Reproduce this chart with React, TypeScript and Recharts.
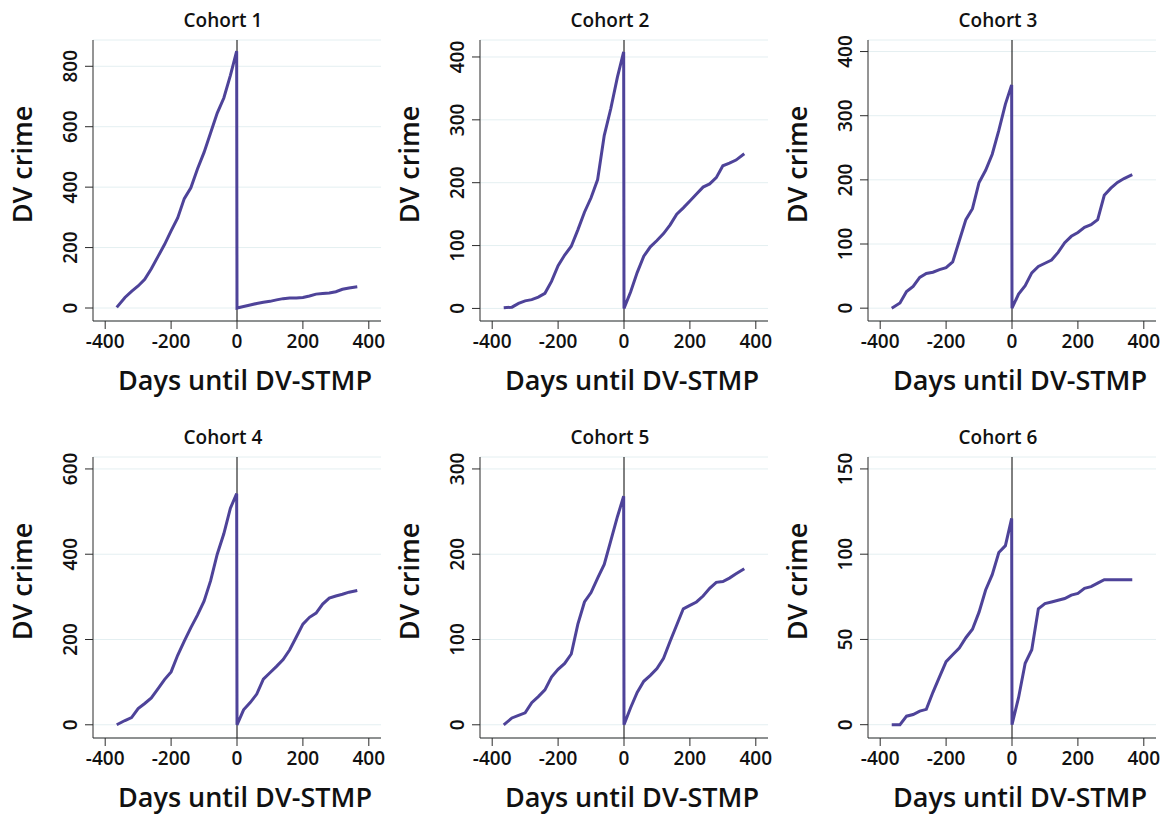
import { LineChart, Line, XAxis, YAxis, CartesianGrid, ReferenceLine } from 'recharts';

// days relative to the DV-STMP start (before / after)
const preDays = [-365, -340, -320, -300, -280, -260, -240, -220, -200, -180, -160, -140, -120, -100, -80, -60, -40, -20, -1];
const postDays = [0, 20, 40, 60, 80, 100, 120, 140, 160, 180, 200, 220, 240, 260, 280, 300, 320, 340, 365];

// cumulative DV crime counts, pre values then post values
const cohort1 = [
  2, 35, 55, 73, 95, 130, 170, 210, 255, 298, 362, 398, 460, 515, 580, 645, 695, 770, 850,
  0, 5, 10, 15, 19, 22, 27, 31, 33, 33, 35, 40, 46, 48, 50, 54, 62, 66, 70,
];
const cohort2 = [
  1, 2, 8, 12, 14, 18, 24, 43, 68, 85, 99, 125, 153, 176, 205, 275, 318, 368, 408,
  0, 26, 57, 83, 98, 108, 119, 133, 150, 160, 171, 182, 193, 198, 208, 227, 231, 236, 246,
];
const cohort3 = [
  0, 8, 26, 34, 48, 54, 56, 60, 63, 72, 105, 138, 155, 196, 215, 240, 277, 318, 348,
  0, 22, 35, 55, 65, 70, 75, 87, 102, 112, 118, 126, 130, 138, 176, 187, 196, 202, 208,
];
const cohort4 = [
  0, 10, 17, 38, 50, 63, 84, 106, 124, 163, 196, 228, 257, 290, 338, 400, 448, 508, 542,
  0, 35, 52, 72, 107, 122, 137, 153, 176, 206, 236, 252, 262, 283, 297, 302, 306, 311, 315,
];
const cohort5 = [
  0, 8, 11, 14, 26, 33, 41, 56, 65, 72, 83, 118, 144, 155, 172, 188, 216, 244, 268,
  0, 20, 38, 51, 58, 66, 78, 98, 117, 136, 140, 144, 151, 160, 167, 168, 172, 177, 183,
];
const cohort6 = [
  0, 0, 5, 6, 8, 9, 19, 28, 37, 41, 45, 51, 56, 66, 79, 88, 101, 105, 121,
  0, 16, 36, 44, 68, 71, 72, 73, 74, 76, 77, 80, 81, 83, 85, 85, 85, 85, 85,
];

const xTicks = [-400, -200, 0, 200, 400];
const yTicks1 = [0, 200, 400, 600, 800];
const yTicks2 = [0, 100, 200, 300, 400];
const yTicks3 = [0, 100, 200, 300, 400];
const yTicks4 = [0, 200, 400, 600];
const yTicks5 = [0, 100, 200, 300];
const yTicks6 = [0, 50, 100, 150];

const days = [...preDays, ...postDays];
const data = days.map((day, i) => ({
  day,
  c1: cohort1[i],
  c2: cohort2[i],
  c3: cohort3[i],
  c4: cohort4[i],
  c5: cohort5[i],
  c6: cohort6[i],
}));

const panels = [
  { key: 'c1', title: 'Cohort 1', ticks: yTicks1, domain: [-43, 887], left: 0, top: 0 },
  { key: 'c2', title: 'Cohort 2', ticks: yTicks2, domain: [-20, 427], left: 387, top: 0 },
  { key: 'c3', title: 'Cohort 3', ticks: yTicks3, domain: [-20, 418], left: 775, top: 0 },
  { key: 'c4', title: 'Cohort 4', ticks: yTicks4, domain: [-31, 628], left: 0, top: 417 },
  { key: 'c5', title: 'Cohort 5', ticks: yTicks5, domain: [-15.5, 314], left: 387, top: 417 },
  { key: 'c6', title: 'Cohort 6', ticks: yTicks6, domain: [-7.8, 157], left: 775, top: 417 },
];

const FONT = '"Open Sans", "Noto Sans", sans-serif';
const LINE = '#4e4399';
const AXIS = '#2b2b2b';
const GRID = '#e4eff1';

const CHART_W = 390;
const CHART_H = 399;
const Y_W = 93;
const X_H = 78;
const M_TOP = 40;
const M_RIGHT = 9;

function XTick({ x, y, payload }: any) {
  return (
    <text x={x} y={y} dy="0.71em" textAnchor="middle" fontFamily={FONT} fontWeight={600} fontSize={19} fill="#111">
      {payload.value}
    </text>
  );
}

function YTick({ x, y, payload }: any) {
  return (
    <g transform={`translate(${x},${y}) rotate(-90)`}>
      <text x={0} y={0} textAnchor="middle" fontFamily={FONT} fontWeight={600} fontSize={19} fill="#111">
        {payload.value}
      </text>
    </g>
  );
}

function Panel({ p }: { p: (typeof panels)[number] }) {
  return (
    <div style={{ position: 'absolute', left: p.left, top: p.top }}>
      <LineChart width={CHART_W} height={CHART_H} data={data} margin={{ top: M_TOP, right: M_RIGHT, left: 0, bottom: 0 }}>
        <CartesianGrid vertical={false} stroke={GRID} strokeWidth={1} />
        <XAxis
          dataKey="day"
          type="number"
          domain={[-437, 437]}
          ticks={xTicks}
          allowDataOverflow
          height={X_H}
          tickSize={8}
          tickMargin={6}
          axisLine={{ stroke: AXIS }}
          tickLine={{ stroke: AXIS }}
          tick={<XTick />}
          interval={0}
        />
        <YAxis
          type="number"
          domain={p.domain}
          ticks={p.ticks}
          allowDataOverflow
          width={Y_W}
          tickSize={8}
          tickMargin={8}
          axisLine={{ stroke: AXIS }}
          tickLine={{ stroke: AXIS }}
          tick={<YTick />}
          interval={0}
        />
        <ReferenceLine x={0} stroke="#000" strokeWidth={1} />
        <Line
          type="linear"
          dataKey={p.key}
          stroke={LINE}
          strokeWidth={3}
          dot={false}
          activeDot={false}
          isAnimationActive={false}
        />
      </LineChart>
    </div>
  );
}

export default function App() {
  return (
    <div style={{ position: 'absolute', left: 0, top: 0, width: 1162, height: 816, background: '#fff', overflow: 'hidden' }}>
      {panels.map((p) => (
        <Panel key={p.key} p={p} />
      ))}
      <svg width={1162} height={816} style={{ position: 'absolute', left: 0, top: 0, pointerEvents: 'none' }}>
        {panels.map((p) => {
          const plotLeft = p.left + Y_W;
          const plotRight = p.left + CHART_W - M_RIGHT;
          const plotTop = p.top + M_TOP;
          const plotBottom = p.top + CHART_H - X_H;
          const cx = (plotLeft + plotRight) / 2;
          const cy = (plotTop + plotBottom) / 2;
          return (
            <g key={p.key} fontFamily={FONT} fill="#111">
              <text x={cx - 14} y={plotTop - 13} textAnchor="middle" fontSize={19} fontWeight={600}>
                {p.title}
              </text>
              <text x={cx + 8} y={plotBottom + 69} textAnchor="middle" fontSize={27} fontWeight={600}>
                Days until DV-STMP
              </text>
              <g transform={`translate(${plotLeft - 61},${cy - 16}) rotate(-90)`}>
                <text x={0} y={0} textAnchor="middle" fontSize={27} fontWeight={600}>
                  DV crime
                </text>
              </g>
            </g>
          );
        })}
      </svg>
    </div>
  );
}
